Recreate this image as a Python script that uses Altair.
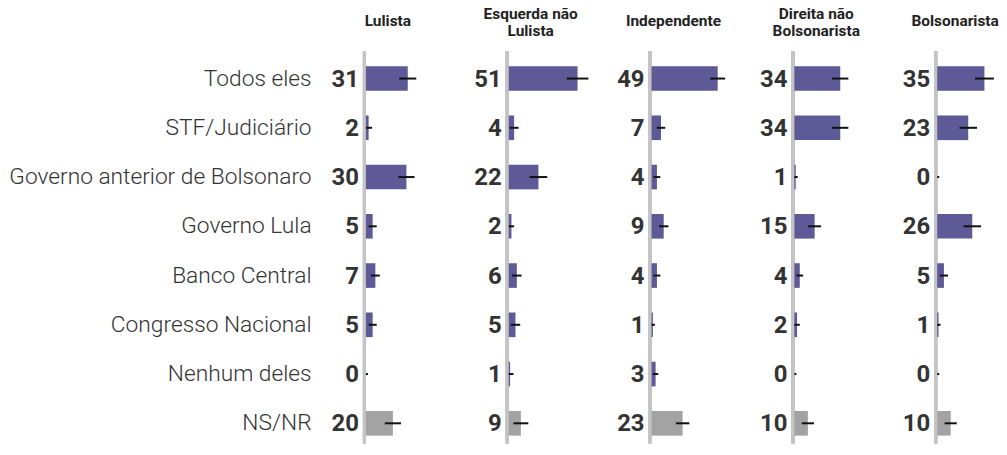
import altair as alt
import pandas as pd

rows = ["Todos eles", "STF/Judiciário", "Governo anterior de Bolsonaro", "Governo Lula",
        "Banco Central", "Congresso Nacional", "Nenhum deles", "NS/NR"]
groups = ["Lulista", "Esquerda não\nLulista", "Independente", "Direita não\nBolsonarista", "Bolsonarista"]

lulista = [31, 2, 30, 5, 7, 5, 0, 20]
esquerda = [51, 4, 22, 2, 6, 5, 1, 9]
independente = [49, 7, 4, 9, 4, 1, 3, 23]
direita = [34, 34, 1, 15, 4, 2, 0, 10]
bolsonarista = [35, 23, 0, 26, 5, 1, 0, 10]

# margins of error (percentage points)
lulista_m = [6.3, 2.5, 6, 3, 3.3, 3, 1.5, 6]
esquerda_m = [8, 3.3, 6.5, 2, 3.5, 3.5, 2.5, 5.5]
independente_m = [5.5, 3.1, 2.5, 3.5, 2.5, 1.5, 2, 5]
direita_m = [6, 6, 1.5, 4.8, 2.5, 2, 1.5, 4.5]
bolsonarista_m = [7, 6.5, 1.5, 6.5, 3, 1.5, 1.5, 4.5]

series = [lulista, esquerda, independente, direita, bolsonarista]
margins = [lulista_m, esquerda_m, independente_m, direita_m, bolsonarista_m]

records = []
for g, vals, ms in zip(groups, series, margins):
    for r, v, m in zip(rows, vals, ms):
        records.append({"grupo": g, "item": r, "valor": v, "margem": m,
                        "tipo": "nsnr" if r == "NS/NR" else "item"})
df = pd.DataFrame(records)

H = 386
W = 44

y_enc = alt.Y("item:N", sort=rows, title=None,
              scale=alt.Scale(paddingInner=0.5, paddingOuter=0.157),
              axis=alt.Axis(domain=False, ticks=False, labelPadding=55, labelFontSize=22.8,
                            labelFont="Roboto", labelFontWeight=300, labelColor="#333333",
                            labelLimit=500))
x_scale = alt.Scale(domain=[0, 32.5], nice=False, zero=True)

base = alt.Chart().transform_calculate(
    lo="max(0, datum.valor - datum.margem)",
    hi="datum.valor + datum.margem",
)

baseline = base.mark_rule(color="#c4c4c4", strokeWidth=3).encode(
    x=alt.value(-1.5), y=alt.value(-7), y2=alt.value(H)
)

bars = base.mark_bar().encode(
    x=alt.X("valor:Q", scale=x_scale, axis=None),
    y=y_enc,
    color=alt.Color("tipo:N", scale=alt.Scale(domain=["item", "nsnr"], range=["#5e5a98", "#a3a3a3"]),
                    legend=None),
)

err = base.mark_rule(color="#111111", strokeWidth=2).encode(
    x=alt.X("lo:Q", scale=x_scale, axis=None),
    x2="hi:Q",
    y=alt.Y("item:N", sort=rows),
)

labels = base.mark_text(align="right", baseline="middle", dx=-7, dy=1, fontSize=24,
                        fontWeight="bold", font="Roboto", color="#333333").encode(
    x=alt.value(0),
    y=alt.Y("item:N", sort=rows),
    text=alt.Text("valor:Q"),
)

title_style = dict(align="center", baseline="middle", lineBreak="\n", lineHeight=17, fontSize=15.5,
                   fontWeight="bold", font="Roboto", color="#222222")

is_first = alt.datum.item == rows[0]
is_two = alt.expr.indexof(alt.datum.grupo, "\n") >= 0
is_last = alt.datum.grupo == groups[-1]

titles_one = base.transform_filter(
    is_first & ~is_two & ~is_last
).mark_text(**title_style).encode(
    x=alt.value(W / 2), y=alt.value(-37.9), text="grupo:N",
)

titles_last = base.transform_filter(
    is_first & is_last
).mark_text(dx=-4, **title_style).encode(
    x=alt.value(W / 2), y=alt.value(-37.9), text="grupo:N",
)

titles_two = base.transform_filter(
    is_first & is_two
).mark_text(**title_style).encode(
    x=alt.value(W / 2), y=alt.value(-44.9), text="grupo:N",
)

layer = alt.layer(baseline, bars, err, labels, titles_one, titles_last, titles_two).properties(
    width=W, height=H)

chart = layer.facet(
    data=df,
    column=alt.Column("grupo:N", sort=groups, title="",
                      header=alt.Header(labels=False, labelPadding=0, titlePadding=0)),
    spacing=99.25,
    bounds="flush",
).properties(
    padding={"left": 0, "top": -2, "right": 0, "bottom": 0}
).configure_view(strokeWidth=0)

chart.save("out.html", embed_options={"renderer": "svg", "actions": False})
